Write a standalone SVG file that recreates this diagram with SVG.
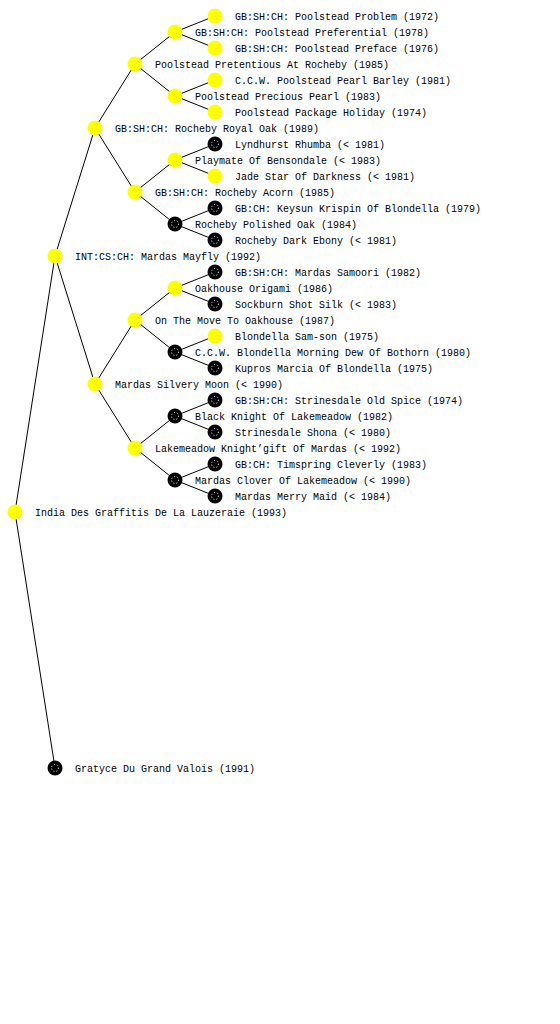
<svg xmlns="http://www.w3.org/2000/svg" width="560" height="1024" viewBox="0 0 560 1024">
<style>
text{font-family:"Liberation Mono","DejaVu Sans Mono",monospace;font-size:10px;fill:#000}
.e line{stroke:#000;stroke-width:1}
.y{fill:#ffff00}
.d{fill:#000}
.dd{fill:none;stroke:#fff;stroke-width:1;stroke-dasharray:1 2}
.yd{fill:none;stroke:#f0f000;stroke-width:1;stroke-dasharray:1 2}
</style>
<rect width="560" height="1024" fill="#fff"/>
<g class="e" id="connectors">
<line x1="15" y1="512" x2="55" y2="256"/>
<line x1="15" y1="512" x2="55" y2="768"/>
<line x1="55" y1="256" x2="95" y2="128"/>
<line x1="55" y1="256" x2="95" y2="384"/>
<line x1="95" y1="128" x2="135" y2="64"/>
<line x1="95" y1="128" x2="135" y2="192"/>
<line x1="95" y1="384" x2="135" y2="320"/>
<line x1="95" y1="384" x2="135" y2="448"/>
<line x1="135" y1="64" x2="175" y2="32"/>
<line x1="135" y1="64" x2="175" y2="96"/>
<line x1="135" y1="192" x2="175" y2="160"/>
<line x1="135" y1="192" x2="175" y2="224"/>
<line x1="135" y1="320" x2="175" y2="288"/>
<line x1="135" y1="320" x2="175" y2="352"/>
<line x1="135" y1="448" x2="175" y2="416"/>
<line x1="135" y1="448" x2="175" y2="480"/>
<line x1="175" y1="32" x2="215" y2="16"/>
<line x1="175" y1="32" x2="215" y2="48"/>
<line x1="175" y1="96" x2="215" y2="80"/>
<line x1="175" y1="96" x2="215" y2="112"/>
<line x1="175" y1="160" x2="215" y2="144"/>
<line x1="175" y1="160" x2="215" y2="176"/>
<line x1="175" y1="224" x2="215" y2="208"/>
<line x1="175" y1="224" x2="215" y2="240"/>
<line x1="175" y1="288" x2="215" y2="272"/>
<line x1="175" y1="288" x2="215" y2="304"/>
<line x1="175" y1="352" x2="215" y2="336"/>
<line x1="175" y1="352" x2="215" y2="368"/>
<line x1="175" y1="416" x2="215" y2="400"/>
<line x1="175" y1="416" x2="215" y2="432"/>
<line x1="175" y1="480" x2="215" y2="464"/>
<line x1="175" y1="480" x2="215" y2="496"/>
</g>
<g id="n0"><circle class="y" cx="15" cy="512" r="7.5"/><circle class="yd" cx="15" cy="512" r="3.5"/><text x="35" y="516">India Des Graffitis De La Lauzeraie (1993)</text></g>
<g id="n1"><circle class="y" cx="55" cy="256" r="7.5"/><circle class="yd" cx="55" cy="256" r="3.5"/><text x="75" y="260">INT:CS:CH: Mardas Mayfly (1992)</text></g>
<g id="n2"><circle class="d" cx="55" cy="768" r="7.5"/><circle class="dd" cx="55" cy="768" r="3.5"/><text x="75" y="772">Gratyce Du Grand Valois (1991)</text></g>
<g id="n3"><circle class="y" cx="95" cy="128" r="7.5"/><circle class="yd" cx="95" cy="128" r="3.5"/><text x="115" y="132">GB:SH:CH: Rocheby Royal Oak (1989)</text></g>
<g id="n4"><circle class="y" cx="95" cy="384" r="7.5"/><circle class="yd" cx="95" cy="384" r="3.5"/><text x="115" y="388">Mardas Silvery Moon (&lt; 1990)</text></g>
<g id="n5"><circle class="y" cx="135" cy="64" r="7.5"/><circle class="yd" cx="135" cy="64" r="3.5"/><text x="155" y="68">Poolstead Pretentious At Rocheby (1985)</text></g>
<g id="n6"><circle class="y" cx="135" cy="192" r="7.5"/><circle class="yd" cx="135" cy="192" r="3.5"/><text x="155" y="196">GB:SH:CH: Rocheby Acorn (1985)</text></g>
<g id="n7"><circle class="y" cx="135" cy="320" r="7.5"/><circle class="yd" cx="135" cy="320" r="3.5"/><text x="155" y="324">On The Move To Oakhouse (1987)</text></g>
<g id="n8"><circle class="y" cx="135" cy="448" r="7.5"/><circle class="yd" cx="135" cy="448" r="3.5"/><text x="155" y="452">Lakemeadow Knight’gift Of Mardas (&lt; 1992)</text></g>
<g id="n9"><circle class="y" cx="175" cy="32" r="7.5"/><circle class="yd" cx="175" cy="32" r="3.5"/><text x="195" y="36">GB:SH:CH: Poolstead Preferential (1978)</text></g>
<g id="n10"><circle class="y" cx="175" cy="96" r="7.5"/><circle class="yd" cx="175" cy="96" r="3.5"/><text x="195" y="100">Poolstead Precious Pearl (1983)</text></g>
<g id="n11"><circle class="y" cx="175" cy="160" r="7.5"/><circle class="yd" cx="175" cy="160" r="3.5"/><text x="195" y="164">Playmate Of Bensondale (&lt; 1983)</text></g>
<g id="n12"><circle class="d" cx="175" cy="224" r="7.5"/><circle class="dd" cx="175" cy="224" r="3.5"/><text x="195" y="228">Rocheby Polished Oak (1984)</text></g>
<g id="n13"><circle class="y" cx="175" cy="288" r="7.5"/><circle class="yd" cx="175" cy="288" r="3.5"/><text x="195" y="292">Oakhouse Origami (1986)</text></g>
<g id="n14"><circle class="d" cx="175" cy="352" r="7.5"/><circle class="dd" cx="175" cy="352" r="3.5"/><text x="195" y="356">C.C.W. Blondella Morning Dew Of Bothorn (1980)</text></g>
<g id="n15"><circle class="d" cx="175" cy="416" r="7.5"/><circle class="dd" cx="175" cy="416" r="3.5"/><text x="195" y="420">Black Knight Of Lakemeadow (1982)</text></g>
<g id="n16"><circle class="d" cx="175" cy="480" r="7.5"/><circle class="dd" cx="175" cy="480" r="3.5"/><text x="195" y="484">Mardas Clover Of Lakemeadow (&lt; 1990)</text></g>
<g id="n17"><circle class="y" cx="215" cy="16" r="7.5"/><circle class="yd" cx="215" cy="16" r="3.5"/><text x="235" y="20">GB:SH:CH: Poolstead Problem (1972)</text></g>
<g id="n18"><circle class="y" cx="215" cy="48" r="7.5"/><circle class="yd" cx="215" cy="48" r="3.5"/><text x="235" y="52">GB:SH:CH: Poolstead Preface (1976)</text></g>
<g id="n19"><circle class="y" cx="215" cy="80" r="7.5"/><circle class="yd" cx="215" cy="80" r="3.5"/><text x="235" y="84">C.C.W. Poolstead Pearl Barley (1981)</text></g>
<g id="n20"><circle class="y" cx="215" cy="112" r="7.5"/><circle class="yd" cx="215" cy="112" r="3.5"/><text x="235" y="116">Poolstead Package Holiday (1974)</text></g>
<g id="n21"><circle class="d" cx="215" cy="144" r="7.5"/><circle class="dd" cx="215" cy="144" r="3.5"/><text x="235" y="148">Lyndhurst Rhumba (&lt; 1981)</text></g>
<g id="n22"><circle class="y" cx="215" cy="176" r="7.5"/><circle class="yd" cx="215" cy="176" r="3.5"/><text x="235" y="180">Jade Star Of Darkness (&lt; 1981)</text></g>
<g id="n23"><circle class="d" cx="215" cy="208" r="7.5"/><circle class="dd" cx="215" cy="208" r="3.5"/><text x="235" y="212">GB:CH: Keysun Krispin Of Blondella (1979)</text></g>
<g id="n24"><circle class="d" cx="215" cy="240" r="7.5"/><circle class="dd" cx="215" cy="240" r="3.5"/><text x="235" y="244">Rocheby Dark Ebony (&lt; 1981)</text></g>
<g id="n25"><circle class="d" cx="215" cy="272" r="7.5"/><circle class="dd" cx="215" cy="272" r="3.5"/><text x="235" y="276">GB:SH:CH: Mardas Samoori (1982)</text></g>
<g id="n26"><circle class="d" cx="215" cy="304" r="7.5"/><circle class="dd" cx="215" cy="304" r="3.5"/><text x="235" y="308">Sockburn Shot Silk (&lt; 1983)</text></g>
<g id="n27"><circle class="y" cx="215" cy="336" r="7.5"/><circle class="yd" cx="215" cy="336" r="3.5"/><text x="235" y="340">Blondella Sam-son (1975)</text></g>
<g id="n28"><circle class="d" cx="215" cy="368" r="7.5"/><circle class="dd" cx="215" cy="368" r="3.5"/><text x="235" y="372">Kupros Marcia Of Blondella (1975)</text></g>
<g id="n29"><circle class="d" cx="215" cy="400" r="7.5"/><circle class="dd" cx="215" cy="400" r="3.5"/><text x="235" y="404">GB:SH:CH: Strinesdale Old Spice (1974)</text></g>
<g id="n30"><circle class="d" cx="215" cy="432" r="7.5"/><circle class="dd" cx="215" cy="432" r="3.5"/><text x="235" y="436">Strinesdale Shona (&lt; 1980)</text></g>
<g id="n31"><circle class="d" cx="215" cy="464" r="7.5"/><circle class="dd" cx="215" cy="464" r="3.5"/><text x="235" y="468">GB:CH: Timspring Cleverly (1983)</text></g>
<g id="n32"><circle class="d" cx="215" cy="496" r="7.5"/><circle class="dd" cx="215" cy="496" r="3.5"/><text x="235" y="500">Mardas Merry Maid (&lt; 1984)</text></g>
</svg>
